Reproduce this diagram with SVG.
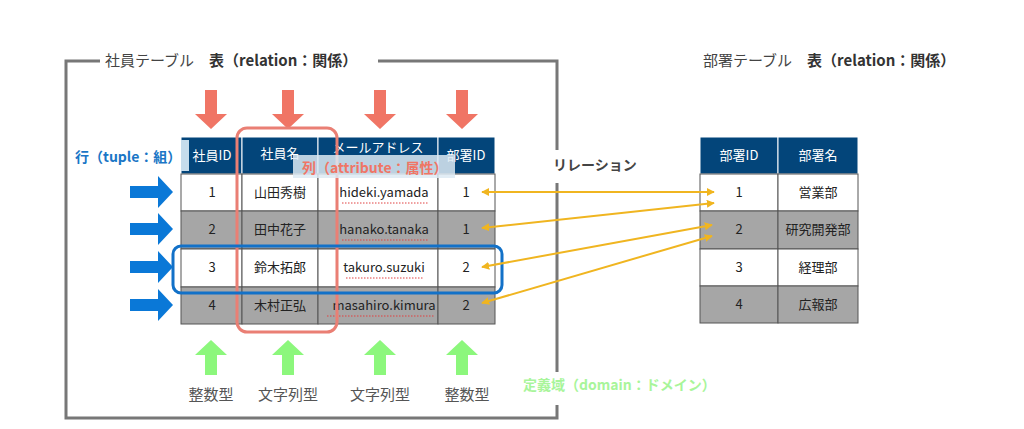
<svg xmlns="http://www.w3.org/2000/svg" width="1024" height="429" viewBox="0 0 1024 429">
<style>
text{font-family:"Noto Sans CJK JP","Noto Sans",sans-serif;}
.hd{fill:#03457a;stroke:#fff;stroke-width:1}
.w{fill:#fff;stroke:#555;stroke-width:1}
.g{fill:#a6a6a6;stroke:#555;stroke-width:1}
.ht{fill:#fff;font-size:13px;text-anchor:middle}
.ct{fill:#222;font-size:13px;text-anchor:middle}
.ttl{fill:#444;font-size:15px}
.typ{fill:#555;font-size:15px;text-anchor:middle}
.red{fill:#f07565}
.blu{fill:#0a78d7}
.grn{fill:#8cf77c}
.ul{stroke:#e04040;stroke-width:1;stroke-dasharray:1.5 1.5}
.rel{stroke:#f0b520;stroke-width:2;fill:none;marker-start:url(#ah);marker-end:url(#ah)}
</style>
<defs>
<marker id="ah" viewBox="0 0 10 10" refX="9" refY="5" markerWidth="4" markerHeight="4" orient="auto-start-reverse"><path d="M0,0L10,5L0,10z" fill="#f0b520"/></marker>
<path id="dn" d="M-6,0h12v24h10l-16,15l-16,-15h10z"/>
<path id="up" d="M-6,35h12v-20h10l-16,-15l-16,15h10z"/>
<path id="rt" d="M0,-6h28v-10l15,16l-15,16v-10h-28z"/>
</defs>
<rect width="1024" height="429" fill="#fff"/>
<g id="frame" fill="none" stroke="#777" stroke-width="3">
<path d="M100,61H66V418H557V405"/>
<path d="M378,61H557V372"/>
</g>
<text class="ttl" x="105" y="66">社員テーブル　<tspan font-weight="bold" fill="#333">表（relation：関係）</tspan></text>
<text class="ttl" x="703" y="66">部署テーブル　<tspan font-weight="bold" fill="#333">表（relation：関係）</tspan></text>

<g id="employee-table">
<rect class="hd" x="181" y="137" width="61" height="37"/><rect class="hd" x="242" y="137" width="76" height="37"/><rect class="hd" x="318" y="137" width="120" height="37"/><rect class="hd" x="438" y="137" width="57" height="37"/>
<rect x="181" y="140" width="8" height="31" fill="#c6dcec"/>
<text class="ht" x="212" y="160">社員ID</text><text class="ht" x="280" y="158">社員名</text><text class="ht" x="378" y="152" font-size="9" fill="#cfe">メールアドレス</text><text class="ht" x="466" y="160">部署ID</text>
<g>
<rect class="w" x="181" y="174" width="61" height="37"/><rect class="w" x="242" y="174" width="76" height="37"/><rect class="w" x="318" y="174" width="120" height="37"/><rect class="w" x="438" y="174" width="57" height="37"/>
<rect class="g" x="181" y="211" width="61" height="38"/><rect class="g" x="242" y="211" width="76" height="38"/><rect class="g" x="318" y="211" width="120" height="38"/><rect class="g" x="438" y="211" width="57" height="38"/>
<rect class="w" x="181" y="249" width="61" height="38"/><rect class="w" x="242" y="249" width="76" height="38"/><rect class="w" x="318" y="249" width="120" height="38"/><rect class="w" x="438" y="249" width="57" height="38"/>
<rect class="g" x="181" y="287" width="61" height="37"/><rect class="g" x="242" y="287" width="76" height="37"/><rect class="g" x="318" y="287" width="120" height="37"/><rect class="g" x="438" y="287" width="57" height="37"/>
</g>
<text class="ct" x="212" y="197">1</text><text class="ct" x="280" y="197">山田秀樹</text><text class="ct" x="384" y="197">hideki.yamada</text><text class="ct" x="466" y="197">1</text>
<text class="ct" x="212" y="234">2</text><text class="ct" x="280" y="234">田中花子</text><text class="ct" x="384" y="234">hanako.tanaka</text><text class="ct" x="466" y="234">1</text>
<text class="ct" x="212" y="272">3</text><text class="ct" x="280" y="272">鈴木拓郎</text><text class="ct" x="384" y="272">takuro.suzuki</text><text class="ct" x="466" y="272">2</text>
<text class="ct" x="212" y="310">4</text><text class="ct" x="280" y="310">木村正弘</text><text class="ct" x="384" y="310">masahiro.kimura</text><text class="ct" x="466" y="310">2</text>
<path class="ul" d="M342,203H428M342,240H428M346,278H424M327,316H434"/>
</g>

<g id="dept-table">
<rect class="hd" x="700" y="137" width="78" height="37"/><rect class="hd" x="778" y="137" width="80" height="37"/>
<text class="ht" x="739" y="160">部署ID</text><text class="ht" x="818" y="160">部署名</text>
<rect class="w" x="700" y="174" width="78" height="37"/><rect class="w" x="778" y="174" width="80" height="37"/>
<rect class="g" x="700" y="211" width="78" height="38"/><rect class="g" x="778" y="211" width="80" height="38"/>
<rect class="w" x="700" y="249" width="78" height="37"/><rect class="w" x="778" y="249" width="80" height="37"/>
<rect class="g" x="700" y="286" width="78" height="37"/><rect class="g" x="778" y="286" width="80" height="37"/>
<text class="ct" x="739" y="197">1</text><text class="ct" x="818" y="197">営業部</text>
<text class="ct" x="739" y="234">2</text><text class="ct" x="818" y="234">研究開発部</text>
<text class="ct" x="739" y="272">3</text><text class="ct" x="818" y="272">経理部</text>
<text class="ct" x="739" y="309">4</text><text class="ct" x="818" y="309">広報部</text>
</g>

<g id="arrows">
<use href="#dn" class="red" x="211" y="90"/><use href="#dn" class="red" x="288" y="90"/><use href="#dn" class="red" x="380" y="90"/><use href="#dn" class="red" x="462" y="90"/>
<use href="#rt" class="blu" x="130" y="192"/><use href="#rt" class="blu" x="130" y="229"/><use href="#rt" class="blu" x="130" y="267"/><use href="#rt" class="blu" x="130" y="305"/>
<use href="#up" class="grn" x="211" y="340"/><use href="#up" class="grn" x="288" y="340"/><use href="#up" class="grn" x="380" y="340"/><use href="#up" class="grn" x="462" y="340"/>
</g>

<g id="highlights" fill="none" stroke-width="3">
<rect x="237" y="128" width="100" height="204" rx="10" stroke="#ea7f74"/>
<rect x="173" y="246" width="329" height="47" rx="8" stroke="#1271c8"/>
</g>
<rect x="293" y="155" width="162" height="23" fill="#ddeaf3" opacity="0.85"/>
<text x="302" y="173" fill="#f07565" font-size="14" font-weight="bold">列（attribute：属性）</text>
<text x="75" y="162" fill="#1a76c6" font-size="14" font-weight="bold">行（tuple：組）</text>

<g id="connectors">
<line class="rel" x1="482" y1="192" x2="714" y2="192"/>
<line class="rel" x1="482" y1="228" x2="714" y2="203"/>
<line class="rel" x1="482" y1="267" x2="712" y2="225"/>
<line class="rel" x1="482" y1="303" x2="712" y2="236"/>
</g>
<rect x="554" y="150" width="6" height="33" fill="#fff"/>
<text x="553" y="170" fill="#444" font-size="14" font-weight="bold">リレーション</text>
<text x="523" y="390" fill="#a8f59a" font-size="14" font-weight="bold">定義域（domain：ドメイン）</text>
<g class="typ"><text x="211" y="400">整数型</text><text x="288" y="400">文字列型</text><text x="380" y="400">文字列型</text><text x="467" y="400">整数型</text></g>
</svg>
